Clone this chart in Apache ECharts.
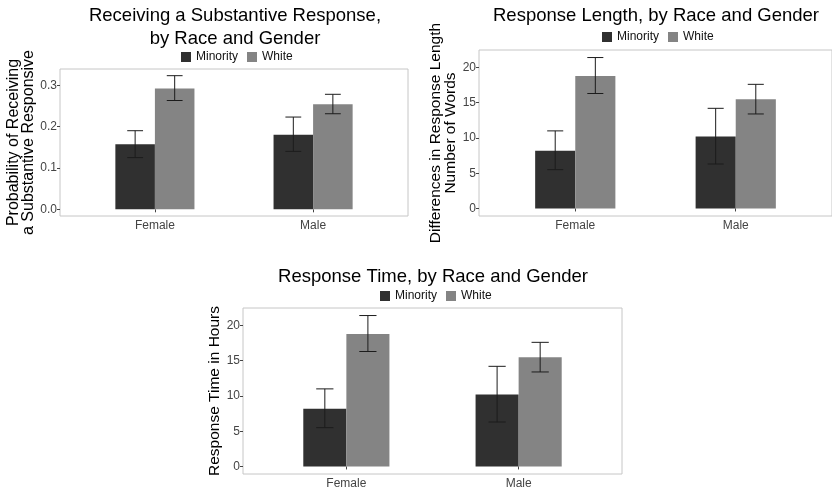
<!DOCTYPE html>
<html style="height: 100%">
<head>
    <meta charset="utf-8">
    <script src="https://cdn.jsdelivr.net/npm/echarts@6/dist/echarts.min.js"></script>
</head>
<body style="height: 100%; margin: 0; background: #fff">
    <div id="main" style="width:832px;height:490px;"></div>
    <script type="text/javascript">
        // data
        var genders = ['Female', 'Male'];
        var races = ['Minority', 'White'];

        // probability of substantive response: mean, low, high
        var probMinority = [[0.157, 0.125, 0.190], [0.180, 0.140, 0.223]];
        var probWhite = [[0.292, 0.263, 0.323], [0.254, 0.231, 0.278]];

        // response length (words)
        var lenMinority = [[8.2, 5.5, 11.0], [10.2, 6.3, 14.2]];
        var lenWhite = [[18.8, 16.3, 21.4], [15.5, 13.4, 17.6]];

        // response time (hours)
        var timeMinority = [[8.2, 5.5, 11.0], [10.2, 6.3, 14.2]];
        var timeWhite = [[18.8, 16.3, 21.4], [15.5, 13.4, 17.6]];

        var probTicks = [0, 0.1, 0.2, 0.3];
        var lenTicks = [0, 5, 10, 15, 20];
        var timeTicks = [0, 5, 10, 15, 20];

        var colors = ['#303030', '#848484'];
        var BW = 0.25, CAP = 0.1;
        var font = 'Liberation Sans, Arial, sans-serif';

        function rows(arr) {
            return arr.map(function (r, i) { return [i + 1, r[0], r[1], r[2]]; });
        }

        function makeRender(side) {
            return function (params, api) {
                var x = api.value(0), m = api.value(1), lo = api.value(2), hi = api.value(3);
                var xa = side < 0 ? x - BW : x;
                var xb = side < 0 ? x : x + BW;
                var p0 = api.coord([xa, m]);
                var p1 = api.coord([xb, 0]);
                var cx = api.coord([(xa + xb) / 2, 0])[0];
                var half = api.size([CAP, 0])[0] / 2;
                var yl = api.coord([x, lo])[1];
                var yh = api.coord([x, hi])[1];
                var ls = { stroke: '#1c1c1c', lineWidth: 1 };
                return {
                    type: 'group',
                    children: [
                        { type: 'rect', shape: { x: p0[0], y: p0[1], width: p1[0] - p0[0], height: p1[1] - p0[1] }, style: { fill: api.visual('color') } },
                        { type: 'line', shape: { x1: cx, y1: yl, x2: cx, y2: yh }, style: ls },
                        { type: 'line', shape: { x1: cx - half, y1: yl, x2: cx + half, y2: yl }, style: ls },
                        { type: 'line', shape: { x1: cx - half, y1: yh, x2: cx + half, y2: yh }, style: ls }
                    ]
                };
            };
        }

        function yRange(a, b) {
            var mx = 0;
            a.concat(b).forEach(function (r) { mx = Math.max(mx, r[2]); });
            return [-mx * 0.05, mx * 1.05];
        }

        var panels = [
            { grid: { left: 60, top: 69, width: 348, height: 147 }, name: 'Probability of Receiving\na Substantive Responsive', nameGap: 22, nameSize: 16, ticks: probTicks, dec: 1, a: probMinority, b: probWhite },
            { grid: { left: 479, top: 50, width: 355, height: 166 }, name: 'Differences in Response Length\nNumber of Words', nameGap: 19, nameSize: 15.5, ticks: lenTicks, dec: 0, a: lenMinority, b: lenWhite },
            { grid: { left: 243, top: 308, width: 379, height: 167 }, name: 'Response Time in Hours', nameGap: 13, nameSize: 15.5, ticks: timeTicks, dec: 0, a: timeMinority, b: timeWhite }
        ];

        var grids = [], xAxes = [], yAxes = [], series = [];
        panels.forEach(function (p, i) {
            grids.push(Object.assign({ show: true, borderColor: '#c6c6c6', borderWidth: 1, backgroundColor: '#fff', containLabel: false }, p.grid));
            xAxes.push({
                type: 'value', gridIndex: i, min: 0.4, max: 2.6,
                axisLine: { show: false }, splitLine: { show: false },
                axisTick: { show: true, length: 3, customValues: [1, 2], lineStyle: { color: '#444' } },
                axisLabel: { customValues: [1, 2], margin: 4, fontSize: 12, color: '#444', fontFamily: font,
                    formatter: function (v) { return genders[Math.round(v) - 1]; } }
            });
            var r = yRange(p.a, p.b);
            yAxes.push({
                type: 'value', gridIndex: i, min: r[0], max: r[1],
                name: p.name, nameLocation: 'middle', nameRotate: 90, nameGap: p.nameGap,
                nameTextStyle: { fontSize: p.nameSize, color: '#000', fontFamily: font, lineHeight: 15 },
                axisLine: { show: false }, splitLine: { show: false },
                axisTick: { show: true, length: 3, customValues: p.ticks, lineStyle: { color: '#444' } },
                axisLabel: { customValues: p.ticks, margin: 3, fontSize: 12, color: '#444', fontFamily: font,
                    formatter: (function (d) { return function (v) { return v.toFixed(d); }; })(p.dec) }
            });
            [p.a, p.b].forEach(function (arr, k) {
                series.push({
                    type: 'custom', name: races[k], xAxisIndex: i, yAxisIndex: i,
                    itemStyle: { color: colors[k] },
                    renderItem: makeRender(k === 0 ? -1 : 1),
                    encode: { x: 0, y: [1, 2, 3] },
                    data: rows(arr), silent: true
                });
            });
        });

        var titleStyle = { fontSize: 18.5, fontWeight: 'normal', color: '#000', fontFamily: font, lineHeight: 23 };
        var legendBase = { data: races, icon: 'rect', itemWidth: 10, itemHeight: 10, itemGap: 9, padding: 0,
            textStyle: { fontSize: 12, color: '#111', fontFamily: font }, selectedMode: false };

        var myChart = echarts.init(document.getElementById('main'));
        myChart.setOption({
            animation: false,
            backgroundColor: '#fff',
            title: [
                { text: 'Receiving a Substantive Response,\nby Race and Gender', left: 235, top: 4, textAlign: 'center', padding: 0, textStyle: Object.assign({ align: 'center' }, titleStyle) },
                { text: 'Response Length, by Race and Gender', left: 656, top: 4, textAlign: 'center', padding: 0, textStyle: titleStyle },
                { text: 'Response Time, by Race and Gender', left: 433, top: 265, textAlign: 'center', padding: 0, textStyle: titleStyle }
            ],
            legend: [
                Object.assign({ left: 181, top: 51 }, legendBase),
                Object.assign({ left: 602, top: 31 }, legendBase),
                Object.assign({ left: 380, top: 290 }, legendBase)
            ],
            grid: grids,
            xAxis: xAxes,
            yAxis: yAxes,
            series: series
        });
    </script>
</body>
</html>
